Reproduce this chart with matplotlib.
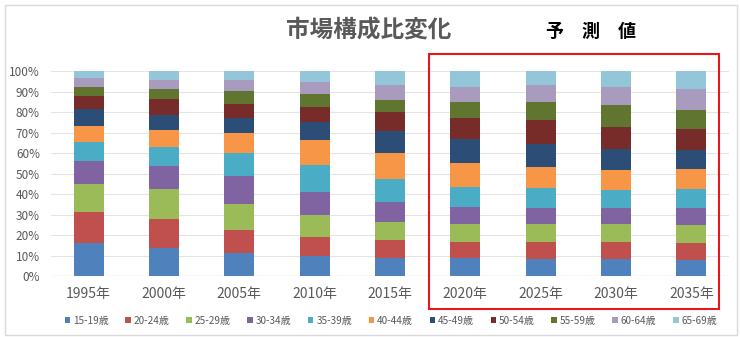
import matplotlib
matplotlib.use("Agg")
import matplotlib.pyplot as plt
from matplotlib.patches import Rectangle
import numpy as np

plt.rcParams['font.family'] = ['Noto Sans CJK JP', 'DejaVu Sans']

# データ(各年の年齢層別構成比 %)
years = ["1995年", "2000年", "2005年", "2010年", "2015年",
         "2020年", "2025年", "2030年", "2035年"]
ages = ["15-19歳", "20-24歳", "25-29歳", "30-34歳", "35-39歳", "40-44歳",
        "45-49歳", "50-54歳", "55-59歳", "60-64歳", "65-69歳"]
share = {
    "1995年": [16.3, 15.1, 13.6, 11.3, 8.9, 8.1, 8.3, 6.2, 4.4, 4.5, 3.3],
    "2000年": [13.5, 14.1, 14.7, 11.2, 9.3, 8.6, 7.1, 8.0, 4.9, 4.4, 4.2],
    "2005年": [11.1, 11.5, 12.7, 13.5, 11.2, 9.9, 7.0, 7.2, 6.1, 5.4, 4.4],
    "2010年": [9.8, 9.4, 10.7, 11.2, 13.2, 11.9, 8.9, 7.5, 6.3, 5.7, 5.4],
    "2015年": [8.8, 8.8, 8.9, 9.8, 10.9, 12.6, 11.1, 8.9, 6.1, 7.1, 7.0],
    "2020年": [8.6, 8.1, 8.5, 8.6, 9.8, 11.4, 11.7, 10.5, 7.8, 7.4, 7.6],
    "2025年": [8.3, 8.4, 8.5, 8.1, 9.5, 10.5, 11.3, 11.5, 8.9, 8.0, 7.0],
    "2030年": [8.3, 8.3, 8.6, 8.1, 8.7, 9.7, 10.4, 10.7, 10.5, 8.7, 8.0],
    "2035年": [8.0, 8.3, 8.6, 8.4, 9.1, 9.6, 9.5, 10.2, 9.1, 10.3, 8.9],
}
colors = ["#4F81BD", "#C0504D", "#9BBB59", "#8064A2", "#4BACC6", "#F79646",
          "#2C4D75", "#772C2A", "#5F7530", "#A99BBD", "#93C6D8"]

fig = plt.figure(figsize=(7.4, 3.37), dpi=100)
ax = fig.add_axes([51/740, 0.181, 678/740, 0.608])

data = np.array([share[y] for y in years])
data = data / data.sum(axis=1, keepdims=True)
x = np.arange(len(years))
bottom = np.zeros(len(years))
for i, age in enumerate(ages):
    ax.bar(x, data[:, i], 0.4, bottom=bottom, color=colors[i], label=age, zorder=3)
    bottom += data[:, i]

ax.set_xlim(-0.5, len(years) - 0.5)
ax.set_ylim(0, 1)
ax.set_yticks(np.arange(0, 1.01, 0.1))
ax.set_yticklabels([f"{int(round(v*100))}%" for v in np.arange(0, 1.01, 0.1)])
ax.set_xticks(x)
ax.set_xticklabels(years)
ax.tick_params(axis='y', length=0, labelsize=8.5, labelcolor="#595959", pad=8)
ax.tick_params(axis='x', length=0, labelsize=10, labelcolor="#595959", pad=8)
ax.grid(axis='y', color="#E4E4E4", linewidth=0.8, zorder=0)
for s in ax.spines.values():
    s.set_visible(False)
ax.axhline(0, color="#D9D9D9", linewidth=0.9, zorder=2)

# タイトル
fig.text(369/740, 1 - 31/337, "市場構成比変化", ha="center", va="center",
         fontsize=17, fontweight="bold", color="#595959")
fig.text(591/740, 1 - 31/337, "予\u3000測\u3000値", ha="center", va="center",
         fontsize=13, fontweight="bold", color="black")

# 予測値の枠
fig.add_artist(Rectangle((429/740, 1 - 309/337), 290/740, 255/337,
                         transform=fig.transFigure, fill=False,
                         edgecolor="#E8161B", linewidth=1.5))
# 外枠
fig.add_artist(Rectangle((5/740, 2/337), 732/740, 330/337,
                         transform=fig.transFigure, fill=False,
                         edgecolor="#D9D9D9", linewidth=1))

handles, labels = ax.get_legend_handles_labels()
fig.legend(handles, labels, loc="center", bbox_to_anchor=(391/740, 1 - 321/337),
           ncol=11, frameon=False, fontsize=7.2, labelcolor="#595959",
           handlelength=0.55, handleheight=0.55, handletextpad=0.3,
           columnspacing=1.65)

fig.savefig("out.png", dpi=100)
